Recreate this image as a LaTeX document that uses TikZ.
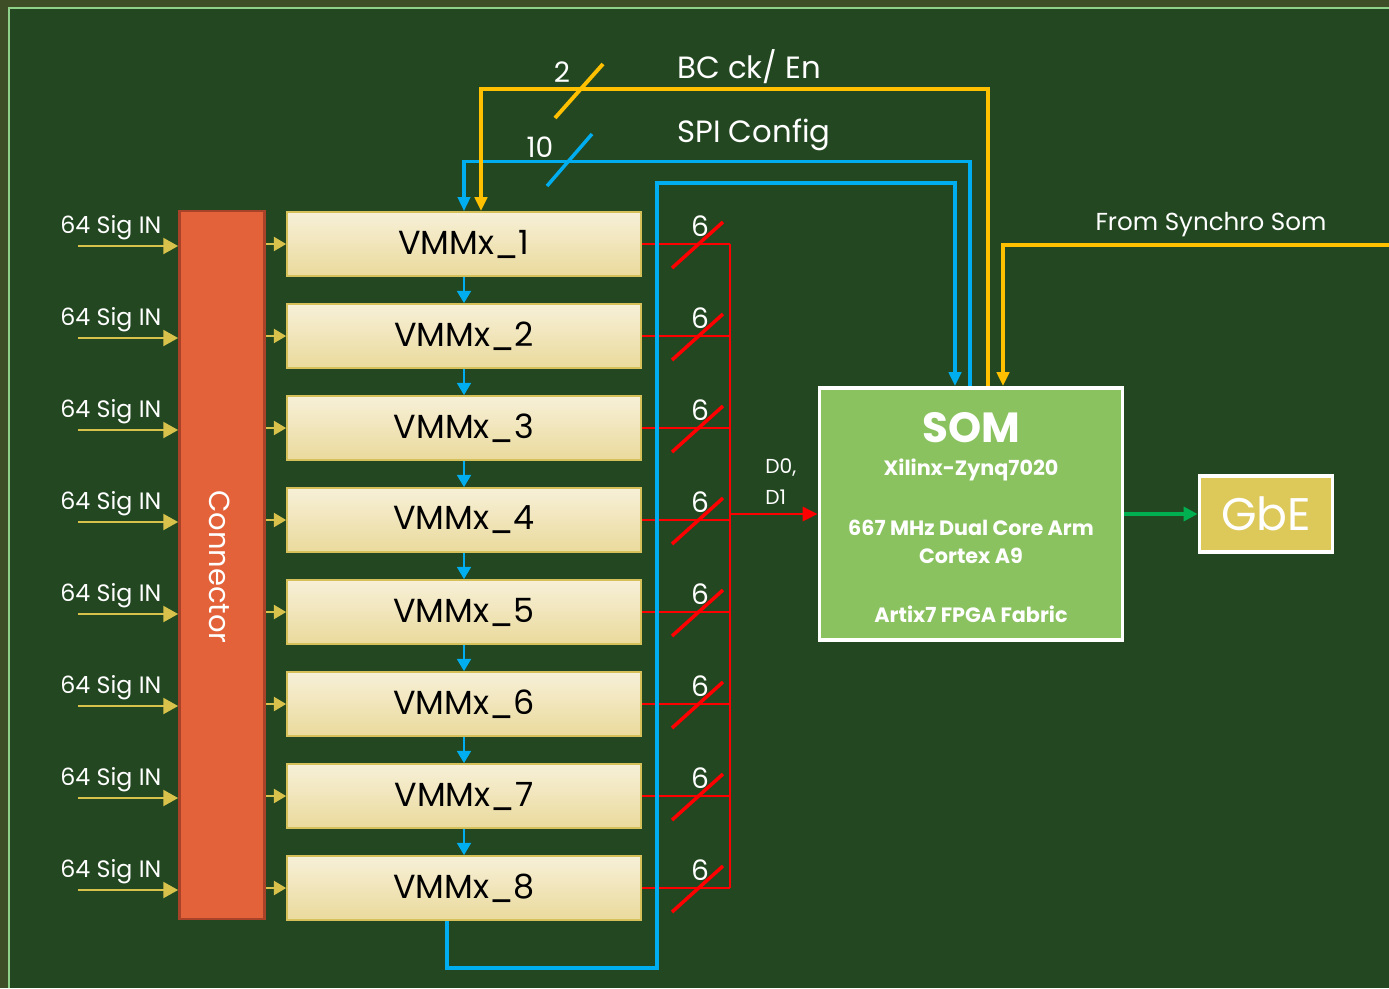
\documentclass[tikz,border=0pt]{standalone}
\usepackage{fontspec}
\setmainfont{Poppins}
\usetikzlibrary{positioning, arrows.meta, calc}

\definecolor{bggreen}{HTML}{224721}
\definecolor{outer}{HTML}{3E4F27}
\definecolor{frame}{HTML}{8FD08A}
\definecolor{conn}{HTML}{E3623A}
\definecolor{connedge}{HTML}{A8432A}
\definecolor{cream}{HTML}{F7F0D8}
\definecolor{creamlow}{HTML}{EADA9C}
\definecolor{vmmedge}{HTML}{D6C05A}
\definecolor{sigyellow}{HTML}{D8C24C}
\definecolor{spiblue}{HTML}{00AEEF}
\definecolor{bcyellow}{HTML}{FFC000}
\definecolor{somgreen}{HTML}{8BC260}
\definecolor{gbegold}{HTML}{DDC85A}
\definecolor{ethgreen}{HTML}{00B050}

\tikzset{
    vmm/.style={draw=vmmedge, line width=1pt, top color=cream, bottom color=creamlow,
        minimum width=7.08cm, minimum height=1.28cm, text=black, font=\fontsize{19}{22}\selectfont},
    lbl/.style={text=white, inner sep=0pt, font=\fontsize{13.5}{15}\selectfont},
    num/.style={text=white, inner sep=0pt, font=\fontsize{16}{18}\selectfont},
    sig/.style={draw=sigyellow, line width=1.6pt, -{Triangle[length=8.5pt, width=9pt]}},
    redbus/.style={draw=red, line width=1.6pt},
    slash/.style={line width=2pt},
    spiline/.style={draw=spiblue, line width=1.8pt},
    bcline/.style={draw=bcyellow, line width=2.3pt},
    somtxt/.style={text=white, font=\bfseries\fontsize{11.8}{16}\selectfont},
}

\begin{document}
\begin{tikzpicture}[x=0.02cm, y=-0.02cm]
    \useasboundingbox (0,0) rectangle (1389,988);
    \fill[outer] (0,0) rectangle (1389,988);
    \fill[bggreen] (9,8) rectangle (1389,988);
    \draw[frame, line width=1.6pt] (1389,8) -- (9,8) -- (9,988);

    % connector and the eight VMMs
    \node[draw=connedge, fill=conn, line width=1.5pt, minimum width=1.7cm, minimum height=14.16cm]
        (conn) at (222,565) {};
    \node[text=white, rotate=-90, font=\fontsize{16.5}{20}\selectfont] (connlbl) at (220,567) {Connector};

    \foreach \i in {1,...,8} {
        \node[vmm] (v\i) at (464,152+92*\i) {VMMx\_\i};
        \coordinate (in\i) at (78,154+92*\i);
        \draw[sig] (in\i) -- (in\i -| conn.west) node[lbl, pos=0, anchor=south west, xshift=-19*0.02cm, yshift=0.1cm] (sig\i) {64 Sig IN};
        \draw[sig, line width=1.2pt, -{Triangle[length=7pt, width=8pt]}] (conn.east |- v\i) -- (v\i.west);
        % data out, 6 lines each
        \coordinate (r\i) at (730,152+92*\i);
        \draw[redbus] (v\i.east) -- (r\i);
        \draw[red, slash] ($(r\i)+(-58,24)$) -- ($(r\i)+(-7,-22)$);
        \node[num] (six\i) at ($(r\i)+(-30,-18)$) {6};
    }
    \foreach \i/\j in {1/2,2/3,3/4,4/5,5/6,6/7,7/8}
        \draw[spiblue, line width=1.1pt, -{Triangle[length=7pt, width=8pt]}] (v\i.south) -- (v\j.north);

    % SOM and GbE
    \node[draw=white, fill=somgreen, line width=2.2pt, minimum width=6.06cm, minimum height=5.04cm]
        (som) at (971,514) {};
    \node[text=white, font=\bfseries\fontsize{24}{26}\selectfont] (somname) at (971,428) {SOM};
    \node[somtxt] (zynq) at (971,470) {Xilinx-Zynq7020};
    \node[somtxt, align=center] (cpu) at (971,542) {667 MHz Dual Core Arm\\Cortex A9};
    \node[somtxt] (fpga) at (971,614) {Artix7 FPGA Fabric};

    \node[draw=white, fill=gbegold, line width=2.2pt, minimum width=2.66cm, minimum height=1.52cm,
        text=white, font=\fontsize{26}{28}\selectfont] (gbe) at (1266,514) {GbE};
    \draw[ethgreen, line width=2.3pt, -{Triangle[length=8pt, width=8pt]}] (som.east) -- (gbe.west);

    % readout bus into the SOM
    \draw[redbus] (r1) -- (r8);
    \coordinate (rin) at (730,514);
    \draw[redbus, -{Triangle[length=8.5pt, width=8pt]}] (rin) -- (som.west);
    \node[lbl, anchor=west, font=\fontsize{11.5}{13}\selectfont] (d0) at (765,468) {D0,};
    \node[lbl, anchor=west, font=\fontsize{11.5}{13}\selectfont] (d1) at (765,497) {D1};

    % config, clock and daisy chain return
    \draw[spiline, -{Triangle[length=8pt, width=7pt]}] ($(som.north)+(-1,0)$) -- ++(0,-225) -| (v1.north);
    \draw[bcline, -{Triangle[length=8pt, width=7pt]}] ($(som.north)+(17,0)$) -- ++(0,-297) -| ($(v1.north)+(17,0)$);
    \draw[spiline, line width=2.3pt, -{Triangle[length=8pt, width=7pt]}]
        ($(v8.south)+(-17,0)$) -- ++(0,47) -| (657,183) -| ($(som.north)+(-16,0)$);
    \coordinate (sync) at (1389,245);
    \draw[bcline, line width=2pt, -{Triangle[length=8pt, width=7pt]}] (sync) -| ($(som.north)+(32,0)$);

    \draw[bcyellow, slash, line width=2.2pt] (555,118) -- (603,64);
    \draw[spiblue, slash] (547,186) -- (592,134);
    \node[num] (nbc) at (562,72) {2};
    \node[num] (nspi) at (540,147) {10};
    \node[lbl, anchor=west, font=\fontsize{17.5}{19}\selectfont] (bclbl) at (677,67) {BC ck/ En};
    \node[lbl, anchor=west, font=\fontsize{17.5}{19}\selectfont] (spilbl) at (677,135) {SPI Config};
    \node[lbl, font=\fontsize{14}{16}\selectfont] (synclbl) at (1211,225) {From Synchro Som};
\end{tikzpicture}
\end{document}
